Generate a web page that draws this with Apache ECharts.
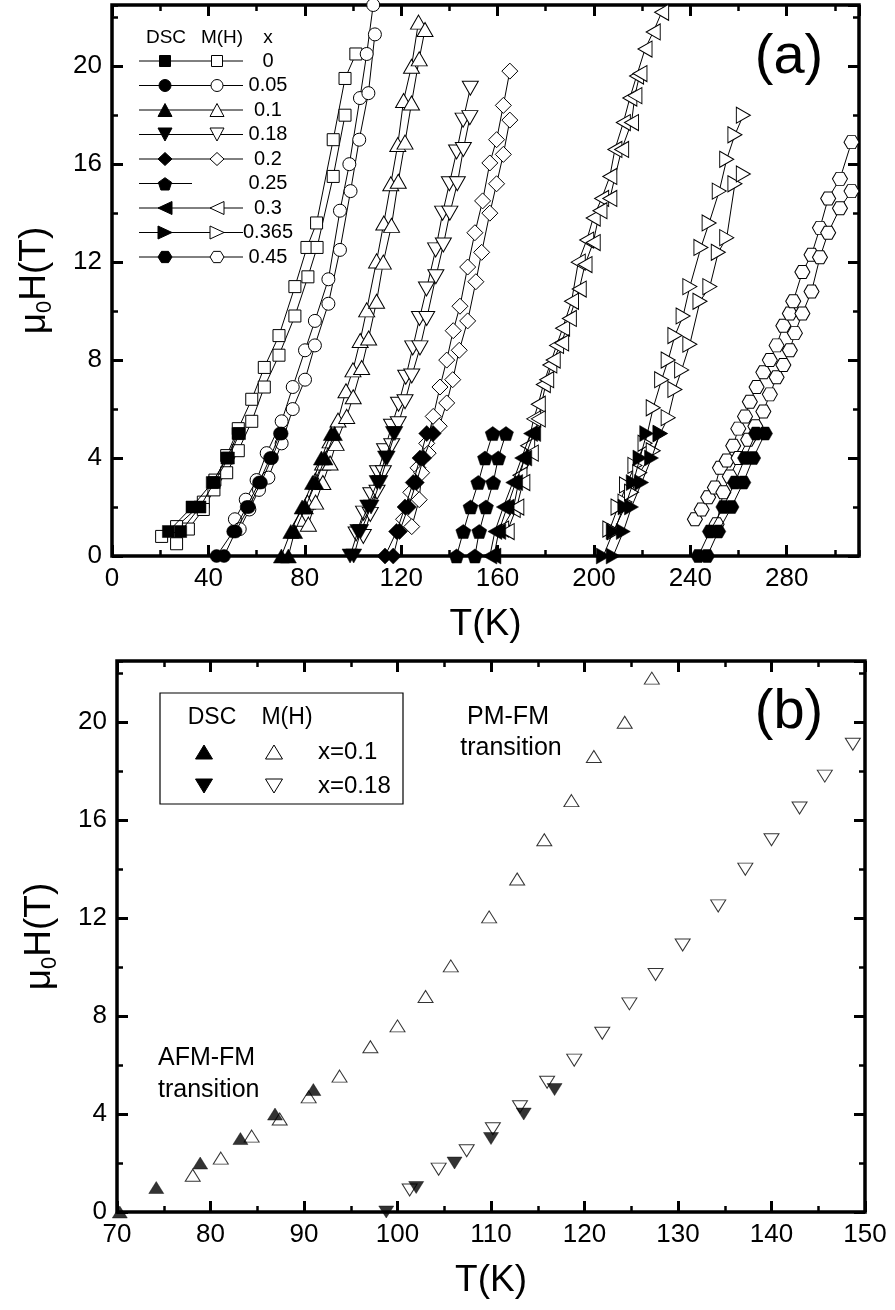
<!DOCTYPE html>
<html><head><meta charset="utf-8">
<script src="https://cdn.jsdelivr.net/npm/echarts@6/dist/echarts.min.js"></script>
<style>html,body{margin:0;padding:0;background:#fff}#c{width:895px;height:1310px}</style>
</head><body><div id="c"></div>
<script>
// ---------- panel (a) data : [T (K), mu0H (T)] ----------
const x0_DSC1 = [[23.4,1],[33.2,2],[41.6,3],[47.7,4],[52.3,5]];
const x0_DSC2 = [[28.5,1],[36.5,2],[42.4,3],[48.3,4],[52.9,5]];
const x0_MH1 = [[20.6,0.8],[26.8,1.2],[37.9,2.2],[42.7,3.1],[47.6,4.1],[52.4,5.2],[58.0,6.4],[63.2,7.7],[69.3,9.0],[75.9,11.0],[80.9,12.6],[84.9,13.6],[91.8,17.0],[96.7,19.5],[101.2,20.5]];
const x0_MH2 = [[26.8,0.5],[31.7,1.1],[37.9,1.9],[42.3,2.7],[47.6,3.4],[52.4,4.3],[58.0,5.5],[63.2,6.9],[69.3,8.2],[75.9,9.8],[81.3,11.4],[85.1,12.6],[91.8,15.5],[96.7,18.0]];

const x005_DSC1 = [[43.4,0],[50.3,1],[55.9,2],[61.0,3],[65.6,4],[69.7,5]];
const x005_DSC2 = [[46.5,0],[51.3,1],[56.8,2],[61.8,3],[66.4,4],[70.4,5]];
const x005_MH1 = [[51.0,1.5],[55.5,2.3],[60.0,3.1],[64.2,4.2],[70.4,5.5],[75.0,6.9],[80.1,8.4],[84.2,9.6],[89.8,11.3],[94.6,14.1],[98.5,16.0],[102.9,18.7],[105.7,20.5],[108.4,22.5]];
const x005_MH2 = [[53.0,1.1],[57.0,1.9],[61.0,2.7],[64.9,3.2],[70.4,4.6],[75.0,6.0],[80.1,7.2],[84.2,8.6],[89.8,10.3],[94.6,12.5],[99.0,14.9],[102.6,17.0],[106.4,18.9],[109.1,21.3]];

const x01_DSC1 = [[70.3,0],[74.2,1],[78.9,2],[83.2,3],[86.9,4],[91.0,5]];
const x01_DSC2 = [[73.2,0],[75.8,1],[80.3,2],[84.6,3],[88.4,4],[92.3,5]];
const x01_MH1 = [[78.1,1.5],[81.1,2.2],[84.4,3.1],[87.4,3.8],[90.5,4.7],[93.8,5.55],[97.1,6.75],[100.0,7.6],[103.0,8.8],[105.7,10.05],[109.8,12.05],[112.8,13.6],[115.7,15.2],[118.6,16.8],[121.0,18.6],[124.3,20.0],[127.2,21.8]];
const x01_MH2 = [[81.5,1.3],[84.5,2.2],[87.5,3.0],[90.5,3.8],[93.0,4.6],[97.4,5.7],[100.1,6.5],[103.6,7.7],[106.5,8.9],[109.8,10.4],[112.6,12.0],[116.0,13.5],[118.8,15.3],[121.6,16.9],[124.3,18.5],[127.5,20.3],[129.9,21.5]];

const x018_DSC1 = [[98.8,0],[102.0,1],[106.1,2],[110.0,3],[113.5,4],[116.8,5]];
const x018_DSC2 = [[100.3,0],[103.2,1],[107.5,2],[111.2,3],[114.2,4],[117.4,5]];
const x018_MH1 = [[101.3,0.9],[104.4,1.75],[107.4,2.5],[110.2,3.4],[113.1,4.3],[116.0,5.3],[118.9,6.2],[121.9,7.3],[124.8,8.5],[127.6,9.7],[130.5,10.9],[134.3,12.5],[137.2,14.0],[140.0,15.2],[143.0,16.5],[145.7,17.8],[148.7,19.1]];
const x018_MH2 = [[104.3,0.8],[107.2,1.7],[110.0,2.6],[112.6,3.4],[116.1,4.5],[118.8,5.4],[121.6,6.3],[124.4,7.35],[127.8,8.5],[130.6,9.7],[134.4,11.4],[137.5,12.7],[140.2,14.0],[143.3,15.2],[145.8,16.6],[148.5,17.9]];

const x02_DSC1 = [[113.3,0],[118.1,1],[121.6,2],[125.0,3],[127.8,4],[130.6,5]];
const x02_DSC2 = [[116.7,0],[119.3,1],[123.0,2],[126.3,3],[129.3,4],[133.3,5]];
const x02_MH1 = [[121.0,1.5],[124.0,2.6],[127.0,3.6],[130.6,4.6],[133.3,5.7],[136.1,6.9],[138.9,8.0],[141.6,9.2],[144.4,10.2],[147.6,11.8],[150.6,13.2],[153.8,14.5],[156.8,16.05],[159.6,17.0],[162.4,18.4],[165.1,19.8]];
const x02_MH2 = [[124.4,1.2],[127.5,2.3],[128.5,3.4],[131.2,4.2],[135.8,5.3],[138.9,6.25],[141.4,7.2],[144.1,8.4],[147.6,9.6],[151.0,11.2],[153.4,12.4],[156.8,14.0],[159.6,15.2],[162.4,16.4],[165.1,17.8]];

const x025_DSC1 = [[143.0,0],[145.8,1],[148.8,2],[152.0,3],[154.8,4],[158.0,5]];
const x025_DSC2 = [[150.6,0],[152.4,1],[155.2,2],[158.2,3],[160.3,4],[163.5,5]];

const x03_DSC1 = [[156.8,0],[158.9,1],[162.4,2],[166.3,3],[170.0,4],[173.7,5]];
const x03_DSC2 = [[158.5,0],[160.5,1],[164.0,2],[167.5,3],[171.3,4],[175.0,5]];
const x03_MH1 = [[161.7,1.1],[166.5,1.9],[169.3,3.3],[172.5,4.5],[175.0,5.6],[176.9,6.2],[179.0,7.0],[181.7,7.8],[184.5,8.6],[187.0,9.3],[190.7,10.4],[193.5,12.0],[197.0,12.9],[199.7,13.8],[203.2,14.6],[206.6,15.5],[208.7,16.6],[212.2,17.7],[214.9,18.7],[217.7,19.6],[221.2,20.7],[224.6,21.4],[228.1,22.2]];
const x03_MH2 = [[164.0,1.0],[168.0,2.0],[170.5,3.0],[174.0,4.2],[176.9,5.6],[180.4,7.2],[183.1,8.0],[186.6,8.7],[189.8,9.7],[193.9,10.9],[196.3,11.9],[199.7,12.8],[202.5,14.1],[206.6,14.6],[211.5,16.6],[215.6,17.7],[217.0,18.8],[219.1,19.7]];

const x0365_DSC1 = [[203.9,0],[208.0,1],[212.9,2],[216.3,3],[219.1,4],[221.9,5]];
const x0365_DSC2 = [[208.0,0],[212.2,1],[215.6,2],[219.8,3],[223.9,4],[227.4,5]];
const x0365_MH1 = [[206.6,1.1],[210.0,2.0],[213.5,2.9],[217.0,3.7],[221.2,4.6],[224.6,6.05],[228.1,7.2],[230.8,8.0],[233.6,9.0],[237.0,9.8],[239.8,11.0],[244.4,12.6],[247.8,13.6],[252.0,14.9],[255.1,16.2],[258.5,17.2],[262.0,18.0]];
const x0365_MH2 = [[208.5,1.0],[212.9,2.2],[215.6,2.6],[219.0,3.4],[224.6,4.3],[227.5,5.0],[230.8,5.65],[233.6,6.8],[236.4,7.6],[239.8,8.65],[244.0,10.4],[248.1,11.0],[251.6,12.4],[255.1,13.0],[258.5,15.2],[262.0,15.6]];

const x045_DSC1 = [[243.3,0],[248.1,1],[253.7,2],[258.5,3],[262.7,4],[267.2,5]];
const x045_DSC2 = [[247.0,0],[251.6,1],[257.1,2],[262.0,3],[266.1,4],[271.0,5]];
const x045_MH1 = [[241.9,1.5],[244.7,1.9],[247.4,2.4],[250.2,2.8],[252.3,3.6],[255.1,3.9],[257.8,4.5],[259.9,5.2],[262.7,5.7],[264.7,6.3],[267.5,6.9],[270.3,7.5],[273.0,8.0],[275.8,8.6],[278.6,9.4],[281.3,9.9],[282.7,10.4],[286.5,11.6],[290.3,12.3],[293.8,13.4],[297.2,14.6],[302.1,15.4],[306.9,16.9]];
const x045_MH2 = [[250.9,1.3],[253.7,2.6],[256.4,3.25],[260.0,4.0],[264.0,4.75],[267.0,5.3],[270.3,5.9],[273.0,6.6],[275.8,7.3],[278.6,7.8],[281.3,8.4],[283.4,9.1],[286.5,9.9],[290.3,10.8],[293.8,12.2],[297.2,13.2],[302.1,14.2],[306.9,14.9]];

// ---------- panel (b) data (x = 0.1 and x = 0.18, first runs) ----------
const b_x01_DSC = x01_DSC1;
const b_x01_MH = x01_MH1;
const b_x018_DSC = x018_DSC1;
const b_x018_MH = x018_MH1;

// legend labels
const legendA = ['0','0.05','0.1','0.18','0.2','0.25','0.3','0.365','0.45'];
const legendB = ['x=0.1','x=0.18'];

// ---------- styling ----------
const FONT = '"Liberation Sans", Arial, Helvetica, sans-serif';
const SYM = {
  square: 'rect',
  circle: 'circle',
  up: 'triangle',
  down: 'path://M0,0L10,0L5,8.66Z',
  diamond: 'diamond',
  pentagon: 'path://M50,0L97.55,34.55L79.39,90.45L20.61,90.45L2.45,34.55Z',
  left: 'path://M0,5L8.66,0L8.66,10Z',
  right: 'path://M0,0L8.66,5L0,10Z',
  hexagon: 'path://M25,0L75,0L100,43.3L75,86.6L25,86.6L0,43.3Z'
};
const SIZE = {square:[12,12], circle:[13,13], up:[16,14], down:[16,14], diamond:[16,16], pentagon:[15,14], left:[14,16], right:[14,16], hexagon:[15,13]};

const groups = [
  {sym:'square',   dsc:[x0_DSC1,x0_DSC2],     mh:[x0_MH1,x0_MH2]},
  {sym:'circle',   dsc:[x005_DSC1,x005_DSC2], mh:[x005_MH1,x005_MH2]},
  {sym:'up',       dsc:[x01_DSC1,x01_DSC2],   mh:[x01_MH1,x01_MH2]},
  {sym:'down',     dsc:[x018_DSC1,x018_DSC2], mh:[x018_MH1,x018_MH2]},
  {sym:'diamond',  dsc:[x02_DSC1,x02_DSC2],   mh:[x02_MH1,x02_MH2]},
  {sym:'pentagon', dsc:[x025_DSC1,x025_DSC2], mh:[]},
  {sym:'left',     dsc:[x03_DSC1,x03_DSC2],   mh:[x03_MH1,x03_MH2]},
  {sym:'right',    dsc:[x0365_DSC1,x0365_DSC2], mh:[x0365_MH1,x0365_MH2]},
  {sym:'hexagon',  dsc:[x045_DSC1,x045_DSC2], mh:[x045_MH1,x045_MH2]}
];

const series = [];
groups.forEach(g => {
  g.mh.forEach(d => series.push({
    type:'line', xAxisIndex:0, yAxisIndex:0, data:d, symbol:SYM[g.sym], symbolSize:SIZE[g.sym],
    showSymbol:true, showAllSymbol:true, lineStyle:{color:'#000', width:1},
    itemStyle:{color:'#fff', borderColor:'#000', borderWidth:1}, z:2, animation:false
  }));
});
groups.forEach(g => {
  g.dsc.forEach(d => series.push({
    type:'line', xAxisIndex:0, yAxisIndex:0, data:d, symbol:SYM[g.sym], symbolSize:SIZE[g.sym],
    showSymbol:true, showAllSymbol:true, lineStyle:{color:'#000', width:1},
    itemStyle:{color:'#000', borderColor:'#000', borderWidth:0.5}, z:3, animation:false
  }));
});
// panel (b)
[[b_x01_MH,'up'],[b_x018_MH,'down']].forEach(([d,s]) => series.push({
  type:'scatter', xAxisIndex:4, yAxisIndex:4, data:d, symbol:SYM[s], symbolSize:[15,12],
  itemStyle:{color:'#fff', borderColor:'#000', borderWidth:1}, z:2, animation:false
}));
[[b_x01_DSC,'up'],[b_x018_DSC,'down']].forEach(([d,s]) => series.push({
  type:'scatter', xAxisIndex:4, yAxisIndex:4, data:d, symbol:SYM[s], symbolSize:[15,12],
  itemStyle:{color:'#000', borderColor:'#000', borderWidth:0.5}, z:3, animation:false
}));

// ---------- axes ----------
function axisSet(dim, grid, min, max, major, minor, labelCfg, nameCfg) {
  const sides = dim === 'x' ? ['bottom','top'] : ['left','right'];
  const out = [];
  sides.forEach((pos, si) => {
    const common = {type:'value', gridIndex:grid, min:min, max:max, position:pos,
      splitLine:{show:false}, axisLine:{show:false, onZero:false}};
    out.push(Object.assign({}, common, {
      interval:major,
      axisTick:{show:true, inside:true, length:11, lineStyle:{color:'#000', width:3}},
      axisLabel: si === 0 ? Object.assign({show:true, color:'#000', fontSize:26, fontFamily:FONT, margin:10}, labelCfg) : {show:false}
    }, si === 0 ? nameCfg : {}));
    out.push(Object.assign({}, common, {
      interval:minor,
      axisTick:{show:true, inside:true, length:6, lineStyle:{color:'#000', width:2.5}},
      axisLabel:{show:false}
    }));
  });
  return out;
}
const xName = {name:'T(K)', nameLocation:'middle', nameGap:50,
  nameTextStyle:{color:'#000', fontSize:37, fontFamily:FONT}};
const yName = {name:'{n|μ}{s|0}{n|H(T)}', nameLocation:'middle', nameGap:56,
  nameTextStyle:{color:'#000', fontSize:37, fontFamily:FONT,
    rich:{n:{color:'#000', fontSize:37, fontFamily:FONT, lineHeight:42, verticalAlign:'middle'},
          s:{color:'#000', fontSize:22, fontFamily:FONT, lineHeight:8, verticalAlign:'bottom'}}}};

const xAxis = [].concat(
  axisSet('x', 0, 0, 310, 40, 20, {showMaxLabel:false}, xName),
  axisSet('x', 1, 70, 150, 10, 5, {}, xName)
);
const yAxis = [].concat(
  axisSet('y', 0, 0, 22.5, 4, 2, {showMaxLabel:false}, yName),
  axisSet('y', 1, 0, 22.5, 4, 2, {showMaxLabel:false}, yName)
);

// ---------- legend / annotations (graphic) ----------
function markerEl(sym, cx, cy, w, h, filled) {
  const style = {fill: filled ? '#000' : '#fff', stroke:'#000', lineWidth:1};
  if (sym === 'circle') return {type:'circle', shape:{cx:cx, cy:cy, r:w/2}, style:style, z:10};
  let pts;
  const hw = w/2, hh = h/2;
  if (sym === 'square') pts = [[cx-hw,cy-hh],[cx+hw,cy-hh],[cx+hw,cy+hh],[cx-hw,cy+hh]];
  else if (sym === 'up') pts = [[cx,cy-hh],[cx+hw,cy+hh],[cx-hw,cy+hh]];
  else if (sym === 'down') pts = [[cx-hw,cy-hh],[cx+hw,cy-hh],[cx,cy+hh]];
  else if (sym === 'left') pts = [[cx-hw,cy],[cx+hw,cy-hh],[cx+hw,cy+hh]];
  else if (sym === 'right') pts = [[cx-hw,cy-hh],[cx+hw,cy],[cx-hw,cy+hh]];
  else if (sym === 'diamond') pts = [[cx,cy-hh],[cx+hw,cy],[cx,cy+hh],[cx-hw,cy]];
  else if (sym === 'pentagon') { pts = []; for (let k=0;k<5;k++){const a=(-90+72*k)*Math.PI/180; pts.push([cx+hw*Math.cos(a), cy+hh*1.05*Math.sin(a)+1]);} }
  else if (sym === 'hexagon') { pts = []; for (let k=0;k<6;k++){const a=(60*k)*Math.PI/180; pts.push([cx+hw*Math.cos(a), cy+hh*Math.sin(a)]);} }
  return {type:'polygon', shape:{points:pts}, style:style, z:10};
}
function txt(t, x, y, size, align) {
  return {type:'text', x:x, y:y, z:10, style:{text:t, fill:'#000', fontSize:size, fontFamily:FONT,
    align:align||'center', verticalAlign:'middle'}};
}
const graphic = [];
// legend (a)
graphic.push(txt('DSC', 166, 38, 19), txt('M(H)', 222, 38, 19), txt('x', 268, 38, 19));
groups.forEach((g, i) => {
  const y = 61 + i*24.5;
  const hasMH = g.mh.length > 0;
  graphic.push({type:'line', shape:{x1:139, y1:y, x2: hasMH ? 243 : 192, y2:y}, style:{stroke:'#000', lineWidth:1}, z:9});
  const sz = g.sym === 'square' ? [11,11] : g.sym === 'circle' ? [12,12] : [14,13];
  graphic.push(markerEl(g.sym, 165, y, sz[0], sz[1], true));
  if (hasMH) graphic.push(markerEl(g.sym, 217, y, sz[0], sz[1], false));
  graphic.push(txt(legendA[i], 268, y, 20));
});
graphic.push(txt('(a)', 789, 58, 56));
// legend (b)
graphic.push({type:'rect', shape:{x:160, y:693, width:243, height:111}, style:{fill:'#fff', stroke:'#000', lineWidth:1.2}, z:8});
graphic.push(txt('DSC', 212, 718, 23), txt('M(H)', 287, 718, 23));
graphic.push(markerEl('up', 204, 752, 17, 14, true), markerEl('up', 274, 752, 17, 14, false), txt(legendB[0], 318, 752, 24, 'left'));
graphic.push(markerEl('down', 204, 786, 17, 14, true), markerEl('down', 274, 786, 17, 14, false), txt(legendB[1], 318, 786, 24, 'left'));
graphic.push(txt('(b)', 789, 713, 56));
graphic.push(txt('PM-FM', 508, 717, 25), txt('transition', 511, 748, 25));
graphic.push(txt('AFM-FM', 158, 1058, 25, 'left'), txt('transition', 158, 1090, 25, 'left'));

const chart = echarts.init(document.getElementById('c'), null, {renderer:'canvas'});
chart.setOption({
  animation:false,
  backgroundColor:'#fff',
  grid:[
    {left:112, top:5, width:747, height:551, show:true, borderColor:'#000', borderWidth:3.5, backgroundColor:'transparent'},
    {left:117, top:661, width:748, height:551, show:true, borderColor:'#000', borderWidth:3.5, backgroundColor:'transparent'}
  ],
  xAxis:xAxis,
  yAxis:yAxis,
  series:series,
  graphic:graphic
});
</script></body></html>
